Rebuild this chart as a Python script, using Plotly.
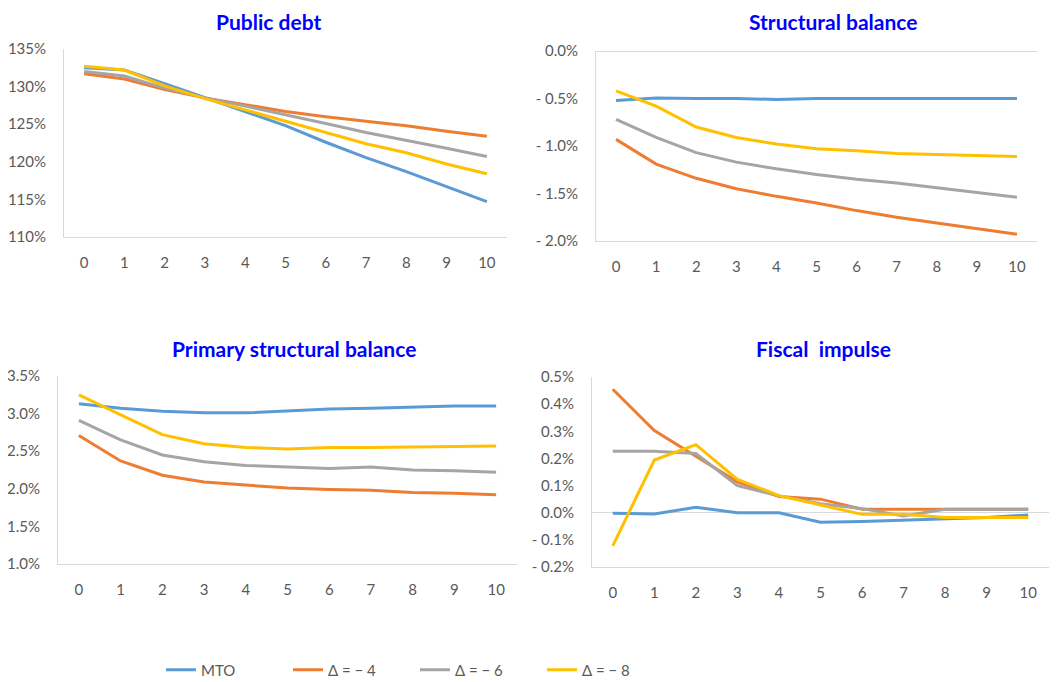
import plotly.graph_objects as go

years = list(range(11))
x_labels = [str(i) for i in years]
series_names = ["MTO", "Δ = − 4", "Δ = − 6", "Δ = − 8"]
colors = ["#5B9BD5", "#ED7D31", "#A5A5A5", "#FFC000"]

# Public debt (% of GDP)
debt_mto = [132.5, 132.2, 130.4, 128.5, 126.7, 124.8, 122.6, 120.55, 118.7, 116.7, 114.7]
debt_m4 = [131.7, 131.0, 129.6, 128.5, 127.6, 126.7, 126.0, 125.4, 124.8, 124.05, 123.4]
debt_m6 = [132.0, 131.4, 129.8, 128.5, 127.4, 126.3, 125.1, 123.9, 122.9, 121.8, 120.7]
debt_m8 = [132.7, 132.2, 130.1, 128.4, 126.9, 125.4, 123.9, 122.4, 121.2, 119.7, 118.4]

# Structural balance (%)
sb_mto = [-0.52, -0.495, -0.5, -0.5, -0.51, -0.5, -0.5, -0.5, -0.5, -0.5, -0.5]
sb_m4 = [-0.93, -1.19, -1.34, -1.45, -1.53, -1.60, -1.68, -1.75, -1.81, -1.87, -1.93]
sb_m6 = [-0.72, -0.91, -1.07, -1.17, -1.24, -1.30, -1.35, -1.39, -1.44, -1.49, -1.54]
sb_m8 = [-0.42, -0.58, -0.80, -0.91, -0.98, -1.03, -1.05, -1.08, -1.09, -1.10, -1.11]

# Primary structural balance (%)
psb_mto = [3.13, 3.07, 3.03, 3.01, 3.01, 3.03, 3.06, 3.07, 3.08, 3.10, 3.10]
psb_m4 = [2.71, 2.37, 2.18, 2.09, 2.05, 2.01, 1.99, 1.98, 1.95, 1.94, 1.92]
psb_m6 = [2.91, 2.65, 2.45, 2.36, 2.31, 2.29, 2.27, 2.29, 2.25, 2.24, 2.22]
psb_m8 = [3.25, 2.98, 2.72, 2.60, 2.55, 2.53, 2.55, 2.55, 2.56, 2.57, 2.57]

# Fiscal impulse (%)
fi_mto = [-0.002, -0.005, 0.02, 0.0, 0.0, -0.035, -0.032, -0.028, -0.023, -0.018, -0.008]
fi_m4 = [0.455, 0.303, 0.208, 0.114, 0.06, 0.05, 0.013, 0.013, 0.013, 0.013, 0.013]
fi_m6 = [0.226, 0.226, 0.218, 0.10, 0.062, 0.033, 0.015, -0.012, 0.013, 0.013, 0.013]
fi_m8 = [-0.122, 0.194, 0.251, 0.123, 0.063, 0.029, -0.006, -0.006, -0.018, -0.018, -0.018]

titles = ["Public debt", "Structural balance", "Primary structural balance", "Fiscal\u00a0\u00a0impulse"]

debt_ticks = [110, 115, 120, 125, 130, 135]
debt_ticklabels = ["110%", "115%", "120%", "125%", "130%", "135%"]
sb_ticks = [-2.0, -1.5, -1.0, -0.5, 0.0]
sb_ticklabels = ["- 2.0%", "- 1.5%", "- 1.0%", "- 0.5%", "0.0%"]
psb_ticks = [1.0, 1.5, 2.0, 2.5, 3.0, 3.5]
psb_ticklabels = ["1.0%", "1.5%", "2.0%", "2.5%", "3.0%", "3.5%"]
fi_ticks = [-0.2, -0.1, 0.0, 0.1, 0.2, 0.3, 0.4, 0.5]
fi_ticklabels = ["- 0.2%", "- 0.1%", "0.0%", "0.1%", "0.2%", "0.3%", "0.4%", "0.5%"]

panels = [
    ([debt_mto, debt_m4, debt_m6, debt_m8], debt_ticks, debt_ticklabels),
    ([sb_mto, sb_m4, sb_m6, sb_m8], sb_ticks, sb_ticklabels),
    ([psb_mto, psb_m4, psb_m6, psb_m8], psb_ticks, psb_ticklabels),
    ([fi_mto, fi_m4, fi_m6, fi_m8], fi_ticks, fi_ticklabels),
]

# The page body has an 8px margin, so the figure is drawn 8px in from the window edge.
OFF = 8
W, H = 1057 - OFF, 682 - OFF


def px(x):
    return (x - OFF) / W


def py(y):
    return 1 - (y - OFF) / H


# plot areas in window pixels: (left, right, top, bottom)
boxes = [
    (64, 507, 49, 237),
    (596, 1037, 51, 241),
    (58, 517, 376, 564),
    (592, 1049, 377, 567),
]
# title centre x, title top y (window pixels)
title_pos = [(268, 8), (833, 8), (294, 335), (823, 335)]

fig = go.Figure()
font_family = "Lato, 'Open Sans', sans-serif"
tick_font = dict(family=font_family, size=15, color="#595959")

for p, (series, ticks, ticklabels) in enumerate(panels):
    n = "" if p == 0 else str(p + 1)
    for s, vals in enumerate(series):
        fig.add_trace(go.Scatter(
            x=years, y=vals, mode="lines", name=series_names[s],
            line=dict(color=colors[s], width=3),
            xaxis="x" + n, yaxis="y" + n, showlegend=(p == 0),
            legendgroup=series_names[s],
        ))
    l, r, t, b = boxes[p]
    fig.layout["xaxis" + n] = dict(
        domain=[px(l), px(r)], anchor="y" + n,
        range=[-0.5, 10.5], tickvals=years, ticktext=x_labels,
        showgrid=False, zeroline=False, showline=True, linecolor="#D9D9D9",
        linewidth=1, tickfont=tick_font, ticks="", ticklabelstandoff=12,
        fixedrange=True,
    )
    fig.layout["yaxis" + n] = dict(
        domain=[py(b), py(t)], anchor="x" + n,
        range=[ticks[0], ticks[-1]], tickvals=ticks, ticktext=ticklabels,
        showgrid=False, zeroline=True, zerolinecolor="#D9D9D9", zerolinewidth=1,
        showline=True, linecolor="#D9D9D9", linewidth=1,
        tickfont=tick_font, ticks="", ticklabelstandoff=14, fixedrange=True,
    )
    tx, ty = title_pos[p]
    fig.add_annotation(
        x=px(tx), y=py(ty), xref="paper", yref="paper",
        text="<b>" + titles[p] + "</b>", showarrow=False,
        xanchor="center", yanchor="top", borderpad=0,
        font=dict(family=font_family, size=21, color="#0000FF"),
    )

fig.update_layout(
    width=W, height=H, margin=dict(l=0, r=0, t=0, b=0, autoexpand=False),
    paper_bgcolor="white", plot_bgcolor="white",
    showlegend=True,
    legend=dict(
        orientation="h", x=px(161), y=py(670), xanchor="left", yanchor="middle",
        font=dict(family=font_family, size=15, color="#595959"),
        entrywidth=82, entrywidthmode="pixels", itemwidth=30, tracegroupgap=0,
        bgcolor="rgba(0,0,0,0)",
    ),
)

fig.write_html("out.html")
